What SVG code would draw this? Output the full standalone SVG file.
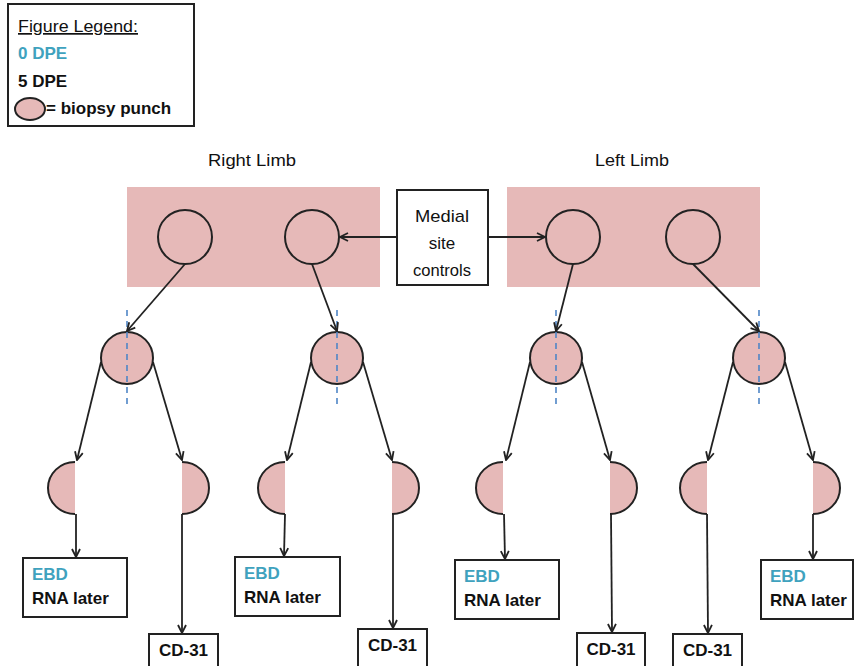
<svg xmlns="http://www.w3.org/2000/svg" width="854" height="666" viewBox="0 0 854 666">
  <defs>
    <marker id="arrow" viewBox="0 0 10 10" refX="9" refY="5" markerWidth="10" markerHeight="10" markerUnits="userSpaceOnUse" orient="auto">
      <path d="M1,1 L9,5 L1,9" fill="none" stroke="#222" stroke-width="1.8"/>
    </marker>
  </defs>
  <style>
    .line { fill: none; stroke: #222; stroke-width: 1.8; }
    .box { fill: #ffffff; stroke: #222; stroke-width: 2; }
    .zone { fill: #E6B9B8; }
    .site { fill: none; stroke: #222; stroke-width: 2; }
    .punch { fill: #E6B9B8; stroke: #222; stroke-width: 2; }
    .cut { fill: none; stroke: #4F86C6; stroke-width: 1.6; stroke-dasharray: 6 5; }
    .bold { font-family: "Liberation Sans", Arial, sans-serif; font-weight: bold; font-size: 17px; fill: #111; }
    .teal { fill: #3FA2BE; }
    .plain { font-family: "Liberation Sans", Arial, sans-serif; font-size: 17px; fill: #111; }
  </style>

  <rect width="854" height="666" fill="#ffffff"/>

  <!-- legend -->
  <g id="legend">
    <rect x="8" y="4" width="186" height="122" fill="#ffffff" stroke="#222" stroke-width="2"/>
    <text x="18" y="32" class="plain" font-size="16" textLength="120" lengthAdjust="spacingAndGlyphs" text-decoration="underline">Figure  Legend:</text>
    <text x="18" y="59" class="bold teal" font-size="16">0 DPE</text>
    <text x="18" y="87" class="bold" font-size="16">5 DPE</text>
    <ellipse cx="30" cy="109" rx="15" ry="11" class="punch"/>
    <text x="46" y="114" class="bold" font-size="16">= biopsy punch</text>
  </g>

  <!-- limb titles -->
  <text x="252" y="166" class="plain" text-anchor="middle" textLength="88" lengthAdjust="spacingAndGlyphs">Right  Limb</text>
  <text x="632" y="166" class="plain" text-anchor="middle" textLength="74" lengthAdjust="spacingAndGlyphs">Left  Limb</text>

  <!-- limb zones with 0 DPE sites -->
  <g id="right-limb">
    <rect x="127" y="187" width="253" height="100" class="zone"/>
    <circle cx="185" cy="237" r="27" class="site"/>
    <circle cx="312" cy="237" r="27" class="site"/>
  </g>
  <g id="left-limb">
    <rect x="507" y="187" width="253" height="100" class="zone"/>
    <circle cx="573" cy="237" r="27" class="site"/>
    <circle cx="693" cy="237" r="27" class="site"/>
  </g>

  <g id="medial-controls">
    <rect x="397" y="190" width="91" height="95" class="box"/>
    <text x="442" y="222" class="plain" text-anchor="middle" textLength="54" lengthAdjust="spacingAndGlyphs">Medial</text>
    <text x="442" y="249" class="plain" text-anchor="middle">site</text>
    <text x="442" y="276" class="plain" text-anchor="middle" textLength="58" lengthAdjust="spacingAndGlyphs">controls</text>
  </g>

  <!-- 5 DPE punches -->
  <g id="punch-1">
    <circle cx="127" cy="358" r="26" class="punch"/>
    <line x1="127" y1="310" x2="127" y2="408" class="cut"/>
  </g>
  <g id="punch-2">
    <circle cx="337" cy="358" r="26" class="punch"/>
    <line x1="337" y1="310" x2="337" y2="408" class="cut"/>
  </g>
  <g id="punch-3">
    <circle cx="556" cy="358" r="26" class="punch"/>
    <line x1="556" y1="310" x2="556" y2="408" class="cut"/>
  </g>
  <g id="punch-4">
    <circle cx="759" cy="358" r="26" class="punch"/>
    <line x1="759" y1="310" x2="759" y2="408" class="cut"/>
  </g>

  <!-- halves: fill closes along the cut, stroke only on the arc -->
  <g id="half-1a"><path d="M75,462 A27,26 0 0 0 75,514" class="punch"/></g>
  <g id="half-1b"><path d="M182,462 A27,26 0 0 1 182,514" class="punch"/></g>
  <g id="half-2a"><path d="M285,462 A27,26 0 0 0 285,514" class="punch"/></g>
  <g id="half-2b"><path d="M392,462 A27,26 0 0 1 392,514" class="punch"/></g>
  <g id="half-3a"><path d="M503,462 A27,26 0 0 0 503,514" class="punch"/></g>
  <g id="half-3b"><path d="M610,462 A27,26 0 0 1 610,514" class="punch"/></g>
  <g id="half-4a"><path d="M707,462 A27,26 0 0 0 707,514" class="punch"/></g>
  <g id="half-4b"><path d="M813,462 A27,26 0 0 1 813,514" class="punch"/></g>

  <!-- output boxes -->
  <g id="ebd-1">
    <rect x="23" y="558" width="104" height="59" class="box"/>
    <text x="32" y="580" class="bold teal">EBD</text>
    <text x="32" y="604" class="bold">RNA later</text>
  </g>
  <g id="cd31-1">
    <rect x="149" y="634" width="69" height="40" class="box"/>
    <text x="183.5" y="656" class="bold" text-anchor="middle">CD-31</text>
  </g>
  <g id="ebd-2">
    <rect x="235" y="557" width="105" height="59" class="box"/>
    <text x="244" y="579" class="bold teal">EBD</text>
    <text x="244" y="603" class="bold">RNA later</text>
  </g>
  <g id="cd31-2">
    <rect x="358" y="629" width="69" height="40" class="box"/>
    <text x="392.5" y="651" class="bold" text-anchor="middle">CD-31</text>
  </g>
  <g id="ebd-3">
    <rect x="455" y="560" width="104" height="59" class="box"/>
    <text x="464" y="582" class="bold teal">EBD</text>
    <text x="464" y="606" class="bold">RNA later</text>
  </g>
  <g id="cd31-3">
    <rect x="577" y="633" width="68" height="40" class="box"/>
    <text x="611" y="655" class="bold" text-anchor="middle">CD-31</text>
  </g>
  <g id="cd31-4">
    <rect x="673" y="634" width="69" height="40" class="box"/>
    <text x="707.5" y="656" class="bold" text-anchor="middle">CD-31</text>
  </g>
  <g id="ebd-4">
    <rect x="761" y="560" width="92" height="59" class="box"/>
    <text x="770" y="582" class="bold teal">EBD</text>
    <text x="770" y="606" class="bold">RNA later</text>
  </g>

  <!-- connectors -->
  <g id="connectors" class="line" marker-end="url(#arrow)">
    <line x1="397" y1="237" x2="340" y2="237"/>
    <line x1="488" y1="237" x2="545" y2="237"/>

    <line x1="185" y1="264" x2="127" y2="331"/>
    <line x1="312" y1="264" x2="337" y2="331"/>
    <line x1="573" y1="264" x2="556" y2="331"/>
    <line x1="693" y1="264" x2="759" y2="331"/>

    <line x1="101" y1="362" x2="77" y2="460"/>
    <line x1="153" y1="362" x2="182" y2="460"/>
    <line x1="311" y1="362" x2="287" y2="460"/>
    <line x1="363" y1="362" x2="392" y2="460"/>
    <line x1="530" y1="362" x2="506" y2="460"/>
    <line x1="582" y1="362" x2="610" y2="460"/>
    <line x1="733" y1="362" x2="708" y2="460"/>
    <line x1="785" y1="362" x2="813" y2="460"/>

    <line x1="76" y1="514" x2="76" y2="557"/>
    <line x1="182" y1="514" x2="182" y2="633"/>
    <line x1="285" y1="514" x2="284" y2="556"/>
    <line x1="393" y1="514" x2="393" y2="628"/>
    <line x1="504" y1="514" x2="505" y2="559"/>
    <line x1="611" y1="514" x2="612" y2="632"/>
    <line x1="707" y1="514" x2="708" y2="633"/>
    <line x1="813" y1="514" x2="813" y2="559"/>
  </g>
</svg>
